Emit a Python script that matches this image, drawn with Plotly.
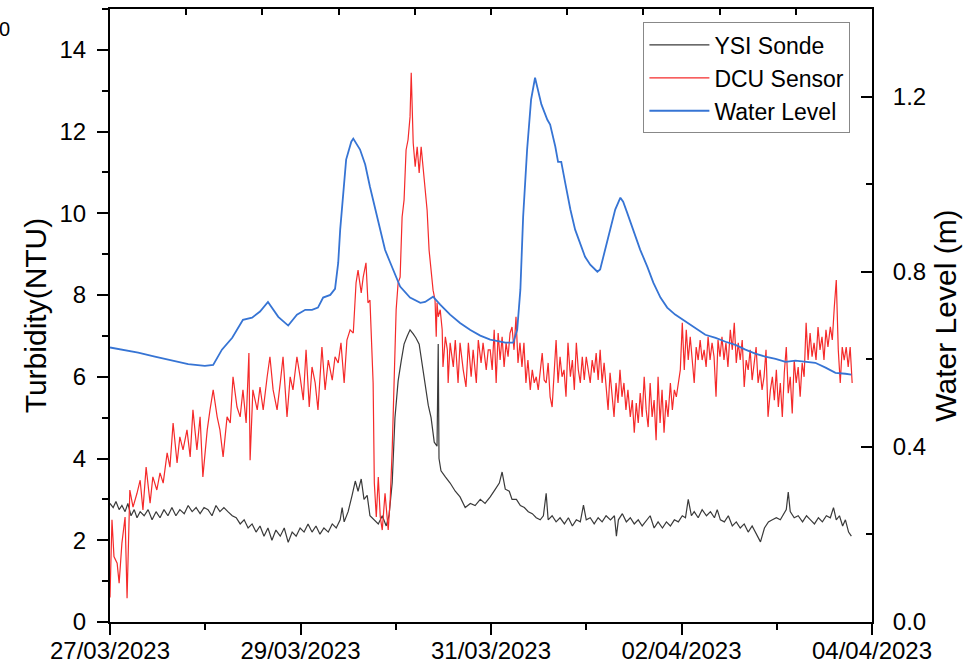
import pandas as pd
import plotly.graph_objects as go

START = pd.Timestamp("2023-03-27 00:00")

# ---- YSI Sonde turbidity (NTU) ----
ysi_hours = [0.0,0.8,1.5,2.3,3.0,3.8,4.5,5.3,6.1,6.8,
             7.6,8.6,9.6,10.6,11.6,12.6,13.6,14.6,15.6,16.6,
             17.6,18.7,19.7,20.7,21.7,22.7,23.7,24.7,25.7,26.7,
             27.7,28.7,29.7,30.8,31.8,32.8,33.8,34.8,35.8,36.8,
             37.8,38.8,39.8,40.8,41.8,42.9,43.9,44.9,45.9,46.9,
             47.9,48.9,49.9,50.9,51.9,52.9,53.9,55.0,56.0,57.0,
             58.0,58.5,59.0,60.0,61.0,61.8,62.5,63.3,64.0,64.8,
             65.5,66.6,67.6,68.6,69.6,70.3,71.1,71.8,72.6,73.4,
             74.1,74.9,75.6,76.4,77.1,77.9,78.7,79.4,80.2,80.9,
             81.7,82.4,82.7,82.9,83.4,84.5,85.7,87.0,88.2,89.5,
             90.8,92.0,93.3,94.5,95.8,97.1,98.1,98.8,99.6,100.6,
             101.3,102.4,103.4,104.4,105.4,106.4,107.4,108.4,109.2,109.9,
             110.4,111.4,112.4,113.4,114.5,115.5,116.5,117.5,118.5,119.3,
             120.0,121.0,122.0,123.0,124.0,125.0,126.1,127.1,127.6,128.1,
             129.1,130.1,131.1,132.1,133.1,134.1,135.2,136.1,137.1,138.1,
             139.2,140.2,141.2,142.2,143.2,144.2,145.0,145.7,146.5,147.2,
             148.2,149.2,150.3,151.3,152.3,153.0,153.8,154.8,155.8,156.8,
             157.8,158.8,159.8,160.8,161.8,162.9,163.9,164.9,165.9,166.9,
             167.9,168.9,169.9,170.4,170.9,171.4,172.4,173.4,174.5,175.5,
             176.5,177.5,178.5,179.5,180.5,181.5,182.3,183.0,183.8,184.6,
             185.3,186.1,186.8]
ysi_ntu = [2.9,2.8,2.95,2.75,2.85,2.7,2.9,2.6,2.75,2.55,
           2.7,2.6,2.75,2.5,2.7,2.55,2.75,2.6,2.8,2.6,
           2.75,2.65,2.85,2.7,2.8,2.65,2.8,2.75,2.6,2.85,
           2.7,2.8,2.7,2.6,2.55,2.4,2.5,2.3,2.4,2.2,
           2.35,2.1,2.3,2.0,2.25,2.1,2.3,1.95,2.2,2.1,
           2.3,2.2,2.4,2.2,2.35,2.15,2.3,2.2,2.4,2.3,
           2.5,2.8,2.45,2.7,3.1,3.45,3.2,3.5,3.0,3.1,
           2.6,2.5,2.4,2.6,2.35,2.6,3.4,5.0,5.9,6.4,
           6.8,7.0,7.15,7.05,6.95,6.8,6.3,5.75,5.3,5.0,
           4.4,4.3,6.8,4.0,3.7,3.55,3.4,3.2,3.06,2.8,
           2.9,2.85,3.0,2.9,3.06,3.25,3.4,3.67,3.25,3.2,
           3.0,3.0,2.85,2.8,2.7,2.65,2.55,2.5,2.6,3.15,
           2.5,2.6,2.45,2.55,2.4,2.55,2.35,2.5,2.45,2.86,
           2.5,2.55,2.4,2.55,2.45,2.6,2.5,2.6,2.1,2.5,
           2.65,2.45,2.55,2.4,2.5,2.35,2.5,2.6,2.3,2.45,
           2.3,2.45,2.35,2.5,2.45,2.6,2.55,3.0,2.6,2.7,
           2.55,2.75,2.6,2.7,2.55,2.75,2.5,2.45,2.6,2.35,
           2.45,2.3,2.4,2.2,2.35,2.15,1.96,2.3,2.45,2.5,
           2.55,2.5,2.65,2.75,3.18,2.7,2.55,2.6,2.45,2.6,
           2.5,2.4,2.55,2.45,2.6,2.55,2.8,2.5,2.6,2.35,
           2.5,2.2,2.1]

# ---- DCU Sensor turbidity (NTU) ----
dcu_hours = [0.0,0.5,1.0,1.8,2.3,3.0,3.8,4.3,5.0,5.8,
             6.8,7.6,8.3,9.1,10.1,10.8,11.8,12.6,13.4,14.4,
             15.1,15.9,16.9,17.6,18.4,19.4,20.2,20.9,21.9,22.7,
             23.4,24.5,25.2,26.0,27.0,27.7,28.5,29.5,30.3,31.0,
             32.0,32.8,33.5,34.3,35.0,35.3,36.0,37.1,37.8,38.6,
             39.6,40.3,41.1,42.1,42.9,43.6,44.6,45.4,46.1,47.1,
             47.9,48.7,49.4,50.2,50.9,51.7,52.4,53.4,54.2,55.0,
             56.0,56.7,57.5,58.2,59.0,59.7,60.5,61.3,62.0,62.5,
             63.3,63.8,64.5,65.0,65.5,66.3,66.6,67.1,67.6,68.1,
             68.6,69.3,70.1,70.6,71.1,71.6,72.1,72.6,73.1,73.6,
             74.1,74.6,75.1,75.6,75.9,76.4,76.9,77.4,77.9,78.4,
             78.9,79.4,79.9,80.4,80.9,81.4,81.9,82.2,82.4,82.7,
             83.2,83.7,83.9,84.5,85.0,85.2,85.7,86.5,87.0,87.7,
             88.2,89.0,89.7,90.3,91.0,91.5,92.3,92.8,93.5,94.0,
             94.8,95.3,
             95.8,96.3,96.8,97.3,97.8,98.3,98.8,99.3,99.8,100.3,
             100.8,101.3,101.8,102.3,102.8,103.3,103.8,104.3,104.8,105.3,
             105.9,106.4,106.9,107.4,107.9,108.4,108.9,109.4,109.9,110.4,
             110.9,111.4,111.9,112.4,112.9,113.4,113.9,114.4,114.9,115.4,
             116.0,116.5,117.0,117.5,118.0,118.5,119.0,119.5,120.0,120.5,
             121.0,121.5,122.0,122.5,123.0,123.5,124.0,124.5,125.0,125.5,
             126.0,126.5,127.0,127.5,128.0,128.5,129.0,129.5,130.0,130.5,
             131.1,131.6,132.1,132.6,133.1,133.6,134.1,134.6,135.1,135.6,
             136.1,136.6,137.1,137.6,138.1,138.6,139.1,139.6,140.1,140.6,
             141.2,141.7,142.2,142.7,143.2,143.7,144.2,144.7,145.2,145.7,
             146.2,146.7,147.2,147.7,148.2,148.7,149.2,149.7,150.2,150.7,
             151.2,151.7,152.2,152.7,153.2,153.7,154.2,154.7,155.2,155.7,
             156.3,156.8,157.3,157.8,158.3,158.8,159.3,159.8,160.3,160.8,
             161.3,161.8,162.3,162.8,163.3,163.8,164.3,164.8,165.3,165.8,
             166.4,166.9,167.4,167.9,168.4,168.9,169.4,169.9,170.4,170.9,
             171.4,171.9,172.4,172.9,173.4,173.9,174.4,174.9,175.4,175.9,
             176.4,176.9,177.4,177.9,178.4,178.9,179.4,179.9,180.4,180.9,
             181.5,182.0,182.5,183.0,183.5,184.0,184.5,185.0,185.5,186.0,
             186.5,187.0]
dcu_ntu = [0.6,2.5,1.6,1.44,0.95,1.93,2.57,0.58,3.23,2.81,
           3.15,3.47,2.74,3.79,2.91,3.55,3.23,3.65,3.4,4.14,
           3.79,4.87,3.89,4.53,4.21,4.7,4.04,5.19,4.21,5.02,
           3.55,4.7,5.19,5.68,5.02,4.7,4.04,5.02,4.87,6.0,
           5.26,5.02,5.68,4.87,6.58,3.96,5.68,5.19,5.75,5.19,
           6.0,6.49,5.68,5.19,5.85,6.49,5.02,6.0,5.68,6.49,
           6.0,5.43,6.66,5.26,6.24,5.85,5.19,6.73,5.68,6.41,
           5.92,6.49,6.34,6.83,5.85,6.9,7.15,7.07,8.3,8.61,
           8.05,8.44,8.79,7.81,7.88,5.85,3.4,2.57,3.55,2.57,
           2.25,3.15,2.25,2.99,4.21,5.85,7.64,8.3,8.44,9.91,
           10.33,11.55,11.8,12.36,13.44,11.72,11.14,11.63,10.99,11.63,
           11.14,10.5,10.08,9.1,8.61,8.12,7.88,6.98,7.81,7.47,
           7.64,7.15,6.24,6.98,6.66,5.85,6.83,6.24,6.9,5.85,
           6.83,6.17,5.75,6.83,6.0,6.66,5.85,6.9,6.34,6.83,
           6.17,6.66,
           6.66,6.17,7.15,5.85,7.07,6.41,6.98,6.24,6.83,6.49,
           7.07,7.22,6.66,7.47,6.34,6.83,6.24,6.83,5.85,6.41,
           5.68,6.17,5.85,6.0,5.68,6.17,6.58,5.92,5.85,6.34,
           5.51,5.26,6.17,6.9,5.85,6.49,6.0,6.17,5.51,6.83,
           6.0,6.41,5.68,6.83,6.17,5.85,6.49,5.92,6.49,6.17,
           5.85,6.41,6.1,6.58,5.92,6.66,5.85,6.34,5.68,5.19,
           6.1,5.51,5.02,5.85,5.36,6.17,5.51,5.85,5.19,5.68,
           5.02,5.43,4.63,5.36,4.87,5.6,5.02,6.0,5.19,4.77,
           5.85,5.02,5.43,4.45,6.0,4.87,5.68,4.63,5.43,5.02,
           5.85,5.19,5.68,5.51,5.85,6.17,7.32,6.17,7.15,6.41,
           6.98,6.41,5.85,6.73,6.41,6.9,6.41,6.66,6.24,6.98,
           6.41,6.83,6.49,5.51,6.9,6.49,6.98,6.41,6.83,6.24,
           7.15,6.66,7.32,6.34,6.83,6.41,6.9,5.75,6.41,6.17,
           6.66,5.92,6.41,6.73,5.85,6.17,5.68,6.0,6.66,5.02,
           5.68,6.0,5.43,6.17,5.26,5.85,5.02,6.1,6.73,5.6,
           6.0,5.1,6.41,5.85,6.24,5.51,6.34,6.0,7.32,6.41,
           7.07,6.49,6.83,6.41,7.22,6.66,6.98,6.41,7.15,6.73,
           7.22,6.9,7.71,8.37,6.66,5.85,6.73,6.41,6.73,6.24,
           6.73,5.85]

# ---- Water level (m) ----
wl_hours = [0.0,7.1,11.3,15.6,19.7,23.9,26.0,28.2,30.8,33.5,
            35.8,37.8,39.8,42.4,44.9,47.1,49.2,50.9,52.4,53.7,
            55.5,56.7,57.5,58.0,58.7,59.5,60.8,61.3,63.0,64.3,
            65.5,66.8,68.1,69.3,70.6,73.1,75.6,78.2,79.4,81.4,
            83.2,85.7,88.2,90.8,93.3,95.8,99.6,101.6,102.6,103.4,
            104.1,105.1,106.1,107.1,108.7,110.2,110.9,112.2,112.9,113.7,
            114.7,116.0,117.2,118.5,119.7,121.0,122.8,123.5,124.8,126.1,
            127.3,128.6,129.3,130.3,131.8,133.6,135.4,136.9,138.7,140.4,
            142.4,145.0,147.5,150.0,152.6,155.1,157.6,160.1,162.6,165.1,
            167.7,170.2,172.7,175.2,177.7,180.3,182.8,185.3,186.8]
wl_m = [0.627,0.615,0.606,0.597,0.589,0.585,0.587,0.622,0.649,0.69,
        0.695,0.709,0.731,0.697,0.677,0.702,0.713,0.713,0.718,0.741,
        0.747,0.761,0.82,0.896,0.98,1.056,1.097,1.104,1.079,1.045,
        0.994,0.946,0.891,0.85,0.821,0.766,0.741,0.729,0.731,0.743,
        0.725,0.702,0.683,0.667,0.654,0.645,0.638,0.638,0.667,0.759,
        0.926,1.079,1.193,1.243,1.182,1.147,1.136,1.086,1.051,1.051,
        1.003,0.942,0.896,0.862,0.834,0.816,0.8,0.805,0.85,0.901,
        0.942,0.969,0.96,0.935,0.896,0.85,0.811,0.775,0.741,0.718,
        0.702,0.686,0.672,0.656,0.649,0.64,0.633,0.622,0.613,0.606,
        0.601,0.594,0.597,0.594,0.592,0.581,0.569,0.567,0.565]

assert len(ysi_hours) == len(ysi_ntu)
assert len(dcu_hours) == len(dcu_ntu)
assert len(wl_hours) == len(wl_m)


def to_time(hours):
    return START + pd.to_timedelta(hours, unit="h")


FONT = "Arial, 'Liberation Sans', sans-serif"
DAY_MS = 86400000

fig = go.Figure()
fig.add_trace(go.Scatter(x=to_time(ysi_hours), y=ysi_ntu, mode="lines", name="YSI Sonde",
                         line=dict(color="#3a3a3a", width=1.2)))
fig.add_trace(go.Scatter(x=to_time(dcu_hours), y=dcu_ntu, mode="lines", name="DCU Sensor",
                         line=dict(color="#f52a2a", width=1.2)))
fig.add_trace(go.Scatter(x=to_time(wl_hours), y=wl_m, mode="lines", name="Water Level",
                         yaxis="y2", line=dict(color="#3674d4", width=1.8)))
# empty trace to activate the top axis frame
fig.add_trace(go.Scatter(x=[], y=[], xaxis="x3", yaxis="y", showlegend=False, hoverinfo="skip"))

axis_common = dict(showline=True, linewidth=2, linecolor="black", showgrid=False, zeroline=False,
                   tickcolor="black", tickwidth=2, automargin=False)

fig.update_layout(
    width=974, height=666,
    margin=dict(l=110, r=102, t=9, b=44),
    paper_bgcolor="white", plot_bgcolor="white",
    font=dict(family=FONT, color="black"),
    xaxis=dict(**axis_common, type="date",
               range=[START, START + pd.Timedelta(days=8)],
               tick0=START, dtick=2 * DAY_MS, tickformat="%d/%m/%Y",
               ticks="outside", ticklen=11, tickfont=dict(size=24), ticklabelstandoff=-5,
               minor=dict(dtick=DAY_MS, ticklen=6, tickwidth=2, tickcolor="black", ticks="outside")),
    xaxis3=dict(**axis_common, overlaying="x", side="top", anchor="y", range=[0, 10],
                dtick=1, ticks="inside", ticklen=6, showticklabels=False),
    yaxis=dict(**axis_common, range=[0, 15], tick0=0, dtick=2, ticks="outside", ticklen=11,
               tickfont=dict(size=24), ticklabelstandoff=6,
               title=dict(text="Turbidity(NTU)", font=dict(size=30), standoff=4),
               minor=dict(dtick=1, ticklen=6, tickwidth=2, tickcolor="black", ticks="outside")),
    yaxis2=dict(**axis_common, overlaying="y", side="right", anchor="x", range=[0, 1.4],
                tick0=0, dtick=0.4, tickformat=".1f", ticks="inside", ticklen=11,
                tickfont=dict(size=24), ticklabelstandoff=14,
                title=dict(text="Water Level (m)", font=dict(size=30), standoff=10),
                minor=dict(dtick=0.2, ticklen=6, tickwidth=2, tickcolor="black", ticks="inside")),
    legend=dict(x=0.70, y=0.978, xanchor="left", yanchor="top", bgcolor="white",
                bordercolor="#888888", borderwidth=1, font=dict(size=23), tracegroupgap=0,
                itemwidth=60),
    showlegend=True,
)
fig.add_annotation(text="0", xref="paper", yref="paper", x=(12 - 110) / 761.7, y=(622 - 29) / 613,
                   xanchor="right", yanchor="middle", showarrow=False, font=dict(size=20))

fig.write_html("out.html")
